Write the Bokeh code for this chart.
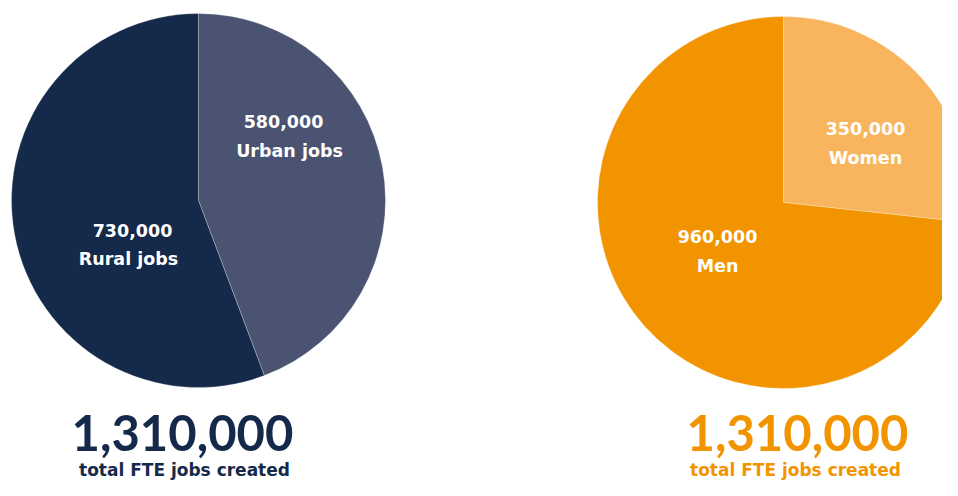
import math
from bokeh.plotting import figure
from bokeh.models import Range1d
from bokeh.core.properties import value
from bokeh.embed import file_html
from bokeh.resources import INLINE

# ---- data ----
region_labels = ["Urban jobs", "Rural jobs"]
region_jobs = [580000, 730000]
region_colors = ["#4A5372", "#152A4A"]

gender_labels = ["Women", "Men"]
gender_jobs = [350000, 960000]
gender_colors = ["#F8B55E", "#F29400"]

total_caption = "total FTE jobs created"

# ---- layout (pixel coords, y measured from top of the figure) ----
W, H = 942, 480
LABEL_FONT = value("DejaVu Sans")
BIG_FONT = value("Lato")


def sy(y):
    return H - y


p = figure(width=W, height=H, output_backend="svg", toolbar_location=None,
           x_range=Range1d(0, W), y_range=Range1d(0, H),
           min_border=0, outline_line_color=None)
p.axis.visible = False
p.grid.visible = False
p.background_fill_color = "white"
p.border_fill_color = "white"


def pie(cx, cy, r, vals, colors):
    tot = sum(vals)
    start = math.pi / 2
    for v, c in zip(vals, colors):
        a = 2 * math.pi * v / tot
        p.wedge(x=[cx], y=[sy(cy)], radius=r, start_angle=start, end_angle=start - a,
                direction="clock", fill_color=c, line_color="white", line_width=0.6,
                line_alpha=0.45)
        start -= a
    return tot


def label(x, base_y, txt, size, color="white", font=LABEL_FONT):
    # base_y: wanted baseline (from top); renderer anchors ~0.4em above baseline
    y = base_y - 0.4 * size
    p.text(x=[x], y=[sy(y)], text=[txt], text_align="center", text_baseline="alphabetic",
           text_font=font, text_font_style="bold", text_font_size=f"{size}px",
           text_color=color)


t1 = pie(198, 200, 187, region_jobs, region_colors)
t2 = pie(783, 202, 186, gender_jobs, gender_colors)

LS = 17.5
# slice labels
label(283, 128, f"{region_jobs[0]:,}", LS)
label(289, 157, region_labels[0], LS)
label(132, 237, f"{region_jobs[1]:,}", LS)
label(128, 265, region_labels[1], LS)

label(865, 135, f"{gender_jobs[0]:,}", LS)
label(865, 164, gender_labels[0], LS)
label(717, 243, f"{gender_jobs[1]:,}", LS)
label(717, 272, gender_labels[1], LS)

# totals
label(182, 452, f"{t1:,}", 49, region_colors[1], BIG_FONT)
label(184, 476, total_caption, 17, region_colors[1])
label(797, 452, f"{t2:,}", 49, gender_colors[1], BIG_FONT)
label(795, 476, total_caption, 17, gender_colors[1])

open("out.html", "w").write(file_html(p, INLINE))
